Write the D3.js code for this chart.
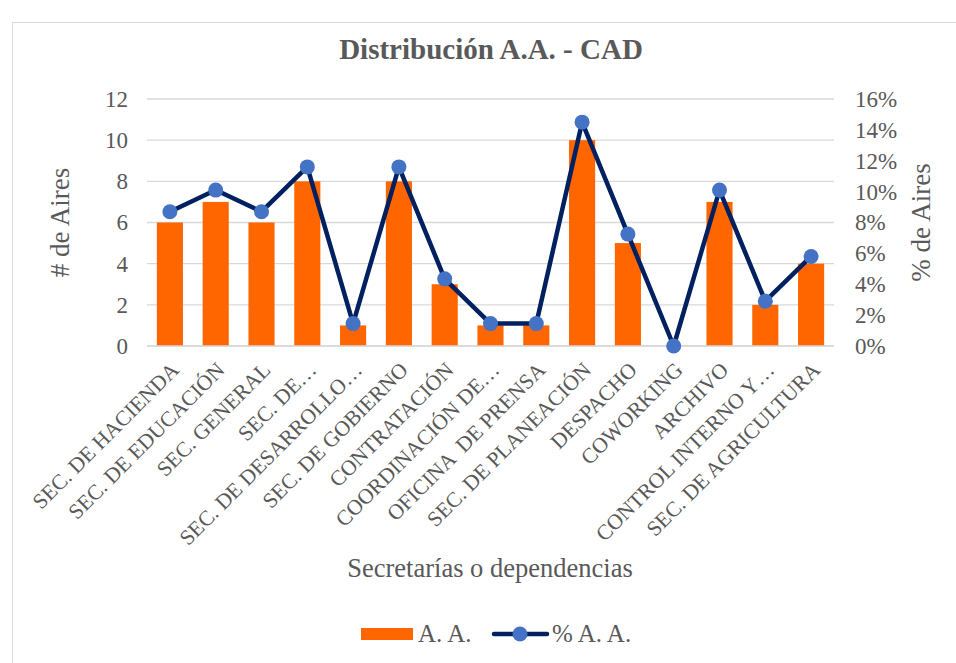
<!DOCTYPE html>
<html>
<head>
<meta charset="utf-8">
<script src="https://cdn.jsdelivr.net/npm/d3@7"></script>
<style>
  body { margin: 0; background: #fff; }
  text { font-family: "Liberation Serif", "Times New Roman", serif; fill: #595959; }
</style>
</head>
<body>
<div id="chart"></div>
<script>
const categories = [
  'SEC. DE HACIENDA', 'SEC. DE EDUCACIÓN', 'SEC. GENERAL', 'SEC. DE…',
  'SEC. DE DESARROLLO…', 'SEC. DE GOBIERNO', 'CONTRATACIÓN', 'COORDINACIÓN DE…',
  'OFICINA  DE PRENSA', 'SEC. DE PLANEACIÓN', 'DESPACHO', 'COWORKING',
  'ARCHIVO', 'CONTROL INTERNO Y…', 'SEC. DE AGRICULTURA'
];
const aires = [6, 7, 6, 8, 1, 8, 3, 1, 1, 10, 5, 0, 7, 2, 4];
const airesPct = [0.087, 0.101, 0.087, 0.116, 0.0145, 0.116, 0.0435, 0.0145, 0.0145, 0.145, 0.0725, 0, 0.101, 0.029, 0.058];
const leftTicks = [0, 2, 4, 6, 8, 10, 12];
const rightTicks = [0, 0.02, 0.04, 0.06, 0.08, 0.10, 0.12, 0.14, 0.16];

const width = 956, height = 663;
const margin = { top: 99, right: 122, bottom: 317, left: 147 };

const svg = d3.select('#chart').append('svg')
  .attr('width', width).attr('height', height);

// chart frame
svg.append('rect')
  .attr('x', 12.5).attr('y', 22.5)
  .attr('width', width).attr('height', height)
  .attr('fill', 'none').attr('stroke', '#d9d9d9').attr('stroke-width', 1);

const x = d3.scaleBand()
  .domain(categories)
  .range([margin.left, width - margin.right])
  .paddingInner(0.43).paddingOuter(0.215);

const y = d3.scaleLinear()
  .domain([0, 12])
  .range([height - margin.bottom, margin.top]);

const y2 = d3.scaleLinear()
  .domain([0, 0.16])
  .range([height - margin.bottom, margin.top]);

// gridlines
svg.append('g')
  .selectAll('line')
  .data(leftTicks)
  .join('line')
  .attr('x1', margin.left).attr('x2', width - margin.right)
  .attr('y1', d => y(d)).attr('y2', d => y(d))
  .attr('stroke', '#d9d9d9').attr('stroke-width', 1.3);

// left axis
const yAxis = g => g
  .attr('transform', `translate(${margin.left - 19},0)`)
  .call(d3.axisLeft(y).tickValues(leftTicks).tickSize(0).tickPadding(0))
  .call(g => g.select('.domain').remove())
  .call(g => g.selectAll('text')
    .style('font-family', '"Liberation Serif", serif')
    .style('font-size', '23px').attr('fill', '#595959'));

svg.append('g').call(yAxis);

// right axis
const y2Axis = g => g
  .attr('transform', `translate(${width - margin.right + 21},0)`)
  .call(d3.axisRight(y2).tickValues(rightTicks).tickSize(0).tickPadding(0).tickFormat(d3.format('.0%')))
  .call(g => g.select('.domain').remove())
  .call(g => g.selectAll('text')
    .style('font-family', '"Liberation Serif", serif')
    .style('font-size', '23px').attr('fill', '#595959'));

svg.append('g').call(y2Axis);

// bars
svg.append('g')
  .selectAll('rect')
  .data(aires)
  .join('rect')
  .attr('x', (d, i) => x(categories[i]))
  .attr('y', d => y(d))
  .attr('width', x.bandwidth())
  .attr('height', d => y(0) - y(d))
  .attr('fill', '#ff6600');

// x axis baseline
svg.append('line')
  .attr('x1', margin.left).attr('x2', width - margin.right)
  .attr('y1', y(0)).attr('y2', y(0))
  .attr('stroke', '#d9d9d9').attr('stroke-width', 1.3);

// category labels
svg.append('g')
  .selectAll('text')
  .data(categories)
  .join('text')
  .attr('transform', d => `translate(${x(d) + x.bandwidth() / 2 + 5},${y(0) + 20}) rotate(-45)`)
  .attr('text-anchor', 'end')
  .attr('dy', '0.35em')
  .style('font-size', '21.5px')
  .style('white-space', 'pre')
  .text(d => d);

// line
const line = d3.line()
  .x((d, i) => x(categories[i]) + x.bandwidth() / 2)
  .y(d => y2(d));

svg.append('path')
  .datum(airesPct)
  .attr('fill', 'none')
  .attr('stroke', '#002060')
  .attr('stroke-width', 4.5)
  .attr('stroke-linejoin', 'round')
  .attr('d', line);

svg.append('g')
  .selectAll('circle')
  .data(airesPct)
  .join('circle')
  .attr('cx', (d, i) => x(categories[i]) + x.bandwidth() / 2)
  .attr('cy', d => y2(d))
  .attr('r', 7.5)
  .attr('fill', '#4472c4');

// title
svg.append('text')
  .attr('x', 491).attr('y', 59)
  .attr('text-anchor', 'middle')
  .style('font-size', '29px').style('font-weight', 'bold')
  .text('Distribución A.A. - CAD');

// axis titles
svg.append('text')
  .attr('transform', `translate(69,${(y(0) + y(12)) / 2}) rotate(-90)`)
  .attr('text-anchor', 'middle')
  .style('font-size', '27px')
  .text('# de Aires');

svg.append('text')
  .attr('transform', `translate(930,${(y(0) + y(12)) / 2}) rotate(-90)`)
  .attr('text-anchor', 'middle')
  .style('font-size', '27px')
  .text('% de Aires');

svg.append('text')
  .attr('x', 490).attr('y', 577)
  .attr('text-anchor', 'middle')
  .style('font-size', '26.5px')
  .text('Secretarías o dependencias');

// legend
const legend = svg.append('g');
legend.append('rect')
  .attr('x', 361).attr('y', 628).attr('width', 52).attr('height', 12)
  .attr('fill', '#ff6600');
legend.append('text')
  .attr('x', 418).attr('y', 642)
  .style('font-size', '25px')
  .text('A. A.');
legend.append('line')
  .attr('x1', 494).attr('x2', 547).attr('y1', 634).attr('y2', 634)
  .attr('stroke', '#002060').attr('stroke-width', 4.5).attr('stroke-linecap', 'round');
legend.append('circle')
  .attr('cx', 520).attr('cy', 634).attr('r', 7.5)
  .attr('fill', '#4472c4');
legend.append('text')
  .attr('x', 552).attr('y', 642)
  .style('font-size', '25px')
  .text('% A. A.');
</script>
</body>
</html>
